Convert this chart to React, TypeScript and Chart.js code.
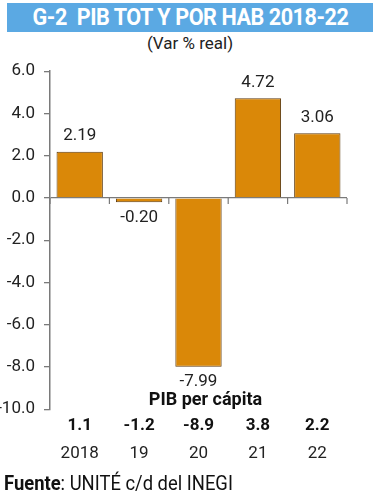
import React, { useEffect, useRef } from "react";
import { Chart, registerables } from "chart.js";

Chart.register(...registerables);

const years = ["2018", "19", "20", "21", "22"];
const pibTotal = [2.19, -0.2, -7.99, 4.72, 3.06];
const perCapita = ["1.1", "-1.2", "-8.9", "3.8", "2.2"];
const yTicks = [6, 4, 2, 0, -2, -4, -6, -8, -10];

const FONT = "Roboto, 'Liberation Sans', sans-serif";
const BAR = "#DA8808";
const BAR_BORDER = "#5e3c10";
const AXIS = "#7a7a7a";

export default function App() {
  const ref = useRef<HTMLCanvasElement | null>(null);

  useEffect(() => {
    document.body.style.margin = "0";
    const canvas = ref.current;
    if (!canvas) return;

    const extras = {
      id: "extras",
      afterDatasetsDraw(chart: any) {
        const ctx = chart.ctx;
        const meta = chart.getDatasetMeta(0);
        ctx.save();
        ctx.font = `17px ${FONT}`;
        ctx.fillStyle = "#222";
        ctx.textAlign = "center";
        meta.data.forEach((el: any, i: number) => {
          const v = pibTotal[i];
          const txt = v.toFixed(2);
          if (v >= 0) {
            ctx.textBaseline = "bottom";
            ctx.fillText(txt, el.x, el.y - 7);
          } else {
            ctx.textBaseline = "top";
            ctx.fillText(txt, el.x, el.y + 7);
          }
        });
        // category ticks on zero line
        const xs = chart.scales.x;
        const ys = chart.scales.y;
        const y0 = ys.getPixelForValue(0);
        const half = (xs.getPixelForValue(1) - xs.getPixelForValue(0)) / 2;
        ctx.strokeStyle = AXIS;
        ctx.lineWidth = 1.2;
        for (let i = 0; i <= years.length; i++) {
          const x = xs.getPixelForValue(0) - half + i * half * 2;
          ctx.beginPath();
          ctx.moveTo(x, y0);
          ctx.lineTo(x, y0 + 6);
          ctx.stroke();
        }
        // PIB per cápita heading
        const ca = chart.chartArea;
        ctx.font = `bold 18px ${FONT}`;
        ctx.fillStyle = "#111";
        ctx.textBaseline = "middle";
        ctx.fillText("PIB per cápita", (ca.left + ca.right) / 2 + 7, ca.bottom - 9);
        ctx.restore();
      },
    };

    const chart = new Chart(canvas, {
      type: "bar",
      data: {
        labels: years,
        datasets: [
          {
            data: pibTotal,
            backgroundColor: BAR,
            borderColor: BAR_BORDER,
            borderWidth: 1,
            barPercentage: 0.78,
            categoryPercentage: 1,
          },
        ],
      },
      options: {
        animation: false,
        responsive: true,
        maintainAspectRatio: false,
        layout: { padding: { top: 0, right: 33, bottom: 6, left: 0 } },
        plugins: { legend: { display: false }, tooltip: { enabled: false } },
        scales: {
          y: {
            min: -10,
            max: 6,
            afterBuildTicks(scale: any) {
              scale.ticks = yTicks.map((v) => ({ value: v }));
            },
            afterFit(scale: any) {
              scale.width = 50;
            },
            ticks: {
              color: "#222",
              font: { family: FONT, size: 17 },
              padding: 9,
              callback: (v: any) => Number(v).toFixed(1),
            },
            grid: {
              color: (c: any) => (c.tick && c.tick.value === 0 ? AXIS : "transparent"),
              tickColor: AXIS,
              tickLength: 6,
              lineWidth: 1.3,
            },
            border: { color: AXIS, width: 1.5 },
          },
          xpc: {
            type: "category",
            position: "bottom",
            labels: perCapita,
            offset: true,
            weight: 0,
            grid: { display: false, drawTicks: false },
            border: { display: false },
            ticks: { color: "#111", font: { family: FONT, size: 17, weight: "bold" }, padding: 6 },
          },
          x: {
            position: "bottom",
            offset: true,
            weight: 1,
            grid: { display: false, drawTicks: false },
            border: { display: false },
            ticks: { color: "#222", font: { family: FONT, size: 17 }, padding: 2 },
          },
        },
      } as any,
      plugins: [extras],
    });
    return () => chart.destroy();
  }, []);

  return (
    <div style={{ position: "fixed", left: 0, top: 0, width: 380, height: 500, background: "#fff", fontFamily: FONT }}>
      <div
        style={{
          position: "absolute",
          left: 7,
          top: 3,
          width: 366,
          height: 29,
          background: "#5BA9E3",
          color: "#fff",
          fontWeight: "bold",
          fontSize: 24,
          lineHeight: "29px",
          textAlign: "center",
          whiteSpace: "pre",
          overflow: "hidden",
        }}
      >
        <span style={{ display: "inline-block", transform: "scaleX(0.9)", transformOrigin: "center", letterSpacing: -0.5 }}>
          {"G-2  PIB TOT Y POR HAB 2018-22"}
        </span>
      </div>
      <div style={{ position: "absolute", left: 0, top: 33, width: 380, textAlign: "center", fontSize: 17, color: "#222" }}>
        (Var % real)
      </div>
      <div style={{ position: "absolute", left: 0, top: 52, width: 380, height: 420 }}>
        <canvas ref={ref} />
      </div>
      <div style={{ position: "absolute", left: 4, top: 471, fontSize: 20, color: "#111", whiteSpace: "pre" }}>
        <span style={{ display: "inline-block", transform: "scaleX(0.92)", transformOrigin: "left center" }}>
          <b>Fuente</b>: UNITÉ c/d del INEGI
        </span>
      </div>
    </div>
  );
}
